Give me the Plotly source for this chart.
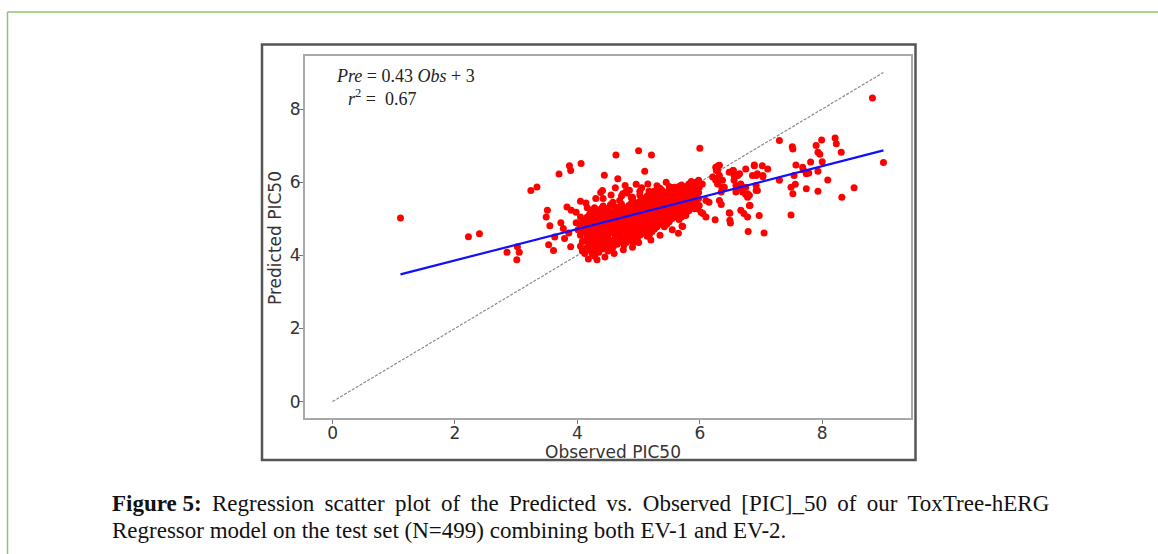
import plotly.graph_objects as go

W, H = 1158, 554
# plot-area placement (pixels)
PL, PR, PT, PB = 305, 911, 56, 418

# ---------------- data ----------------
# scattered points (observed, predicted)
scatter_pts = [
    (1.11, 5.02), (2.22, 4.51), (2.40, 4.59), (2.85, 4.08), (3.02, 4.23), (3.05, 4.08),
    (3.01, 3.88), (3.24, 5.77), (3.34, 5.87), (3.51, 5.23), (3.49, 5.05), (3.55, 4.81),
    (3.63, 4.50), (3.53, 4.29), (3.61, 4.13), (3.70, 6.22), (3.87, 6.45), (3.89, 6.32),
    (4.06, 6.51), (3.73, 4.89), (3.77, 4.73), (3.83, 5.32), (3.90, 5.23), (3.86, 4.61),
    (3.89, 4.23), (3.98, 4.89), (4.01, 4.70), (4.05, 5.48), (4.14, 5.43), (4.22, 5.23),
    (4.18, 3.90), (4.41, 5.77), (4.44, 6.19), (4.63, 6.74), (4.66, 6.09), (4.78, 5.91),
    (4.81, 5.70), (5.00, 6.86), (5.21, 6.74), (5.10, 6.30), (4.96, 5.94), (3.79, 4.46),
    (3.98, 5.18), (8.82, 8.30), (9.00, 6.54), (7.30, 7.14), (7.51, 6.97), (7.52, 6.91),
    (7.90, 7.00), (7.99, 7.15), (8.21, 7.21), (8.23, 7.05), (8.31, 6.82), (7.93, 6.82),
    (7.96, 6.76), (8.00, 6.56), (7.81, 6.55), (7.93, 6.30), (7.57, 6.47), (7.68, 6.41),
    (7.69, 6.34), (7.74, 6.23), (7.78, 6.25), (7.54, 6.18), (7.30, 6.05), (7.56, 5.94),
    (7.49, 5.86), (7.52, 5.68), (7.74, 5.82), (7.93, 5.75), (8.09, 6.06), (8.52, 5.85),
    (8.32, 5.59), (7.49, 5.10), (7.05, 4.61), (6.79, 4.65), (6.97, 5.09), (6.82, 5.36),
    (6.49, 5.15), (6.50, 4.88), (6.25, 4.97), (6.00, 6.93), (6.26, 6.41), (6.29, 6.32),
    (6.32, 6.46), (6.54, 6.32), (6.56, 6.18), (6.75, 6.36), (6.89, 6.45), (7.02, 6.45),
    (7.11, 6.36), (6.92, 6.18), (7.03, 6.18), (6.75, 5.86), (6.78, 5.68), (6.81, 5.64),
    (6.92, 5.77), (6.37, 6.05), (6.40, 5.86), (6.35, 5.73), (5.77, 5.09), (5.83, 5.32),
    (5.71, 4.80), (6.10, 5.05), (5.72, 4.79), (5.09, 4.61), (6.04, 5.95), (5.99, 5.86),
    (5.94, 5.77), (6.10, 5.50), (6.15, 5.45), (5.99, 5.36), (5.96, 5.27), (6.02, 5.18),
    (6.05, 5.14), (6.21, 6.14), (6.26, 6.05), (6.59, 5.73), (6.65, 5.86), (6.62, 5.86),
    (6.67, 5.95), (6.70, 5.73), (6.75, 5.66), (6.78, 5.59), (6.81, 5.36), (6.94, 5.77),
    (6.92, 5.91), (6.32, 5.50), (6.35, 5.39), (6.30, 6.45), (6.27, 6.32), (6.32, 6.18),
    (6.26, 6.09), (6.29, 5.95), (6.36, 5.86), (6.48, 6.27), (6.55, 6.32), (6.62, 6.18),
    (6.56, 6.05), (6.59, 5.91), (6.67, 5.23), (6.72, 5.14), (6.78, 5.05), (5.91, 5.27),
    (5.94, 5.36), (5.83, 5.41), (6.89, 6.47), (6.65, 6.23), (6.86, 6.18), (6.94, 6.23),
    (7.03, 6.15), (6.48, 5.16), (6.49, 4.96), (5.02, 5.75), (5.17, 5.75), (5.25, 5.75),
    (5.35, 5.83), (5.50, 5.88), (5.58, 5.86), (4.74, 5.68), (4.79, 5.73), (4.90, 5.59),
    (4.30, 5.55), (4.38, 5.72), (4.55, 5.65), (4.62, 5.85), (4.85, 5.78), (5.05, 5.85),
    (5.15, 5.95), (5.30, 5.90), (5.45, 6.00), (4.45, 3.95), (4.60, 4.05), (4.75, 4.15),
    (4.90, 4.22), (5.00, 4.35), (5.20, 4.42), (5.35, 4.55), (5.55, 4.70), (5.65, 4.60),
    (4.32, 3.88),
]

# dense core, by observed-value column
dense_cols = {
    4.05: [4.25, 4.55, 4.80, 5.05],
    4.08: [4.12, 4.38, 4.65, 4.90],
    4.12: [4.05, 4.40, 4.68, 4.95],
    4.16: [4.22, 4.55, 4.82, 5.05, 5.30],
    4.20: [4.15, 4.32, 4.50, 4.72, 4.90, 5.12],
    4.24: [4.05, 4.38, 4.60, 4.80, 5.00, 5.22],
    4.28: [3.98, 4.22, 4.45, 4.62, 4.85, 5.05, 5.30],
    4.31: [4.15, 4.38, 4.70, 4.92, 5.15],
    4.35: [4.08, 4.30, 4.55, 4.76, 4.98, 5.20],
    4.39: [4.25, 4.48, 4.68, 4.90, 5.12, 5.28],
    4.42: [4.18, 4.40, 4.60, 4.82, 5.02, 5.35, 5.55],
    4.46: [4.32, 4.55, 4.75, 4.98, 5.18],
    4.50: [4.12, 4.28, 4.50, 4.70, 4.92, 5.10, 5.28],
    4.54: [4.20, 4.40, 4.62, 4.82, 5.02, 5.20, 5.38],
    4.58: [4.22, 4.40, 4.62, 4.80, 5.00, 5.18, 5.45],
    4.62: [4.32, 4.52, 4.70, 4.92, 5.12, 5.32],
    4.65: [4.30, 4.52, 4.72, 4.90, 5.08, 5.25],
    4.69: [4.38, 4.58, 4.80, 5.00, 5.15, 5.32, 5.50],
    4.72: [4.45, 4.62, 4.83, 5.02, 5.20, 5.40, 5.62],
    4.76: [4.28, 4.50, 4.70, 4.90, 5.08, 5.25],
    4.80: [4.35, 4.55, 4.75, 4.95, 5.12, 5.30],
    4.84: [4.42, 4.62, 4.82, 5.00, 5.18, 5.36],
    4.88: [4.50, 4.68, 4.88, 5.05, 5.22, 5.42, 5.58],
    4.91: [4.35, 4.55, 4.75, 4.95, 5.12, 5.30, 5.50],
    4.95: [4.40, 4.60, 4.80, 4.98, 5.15, 5.35],
    4.98: [4.48, 4.68, 4.86, 5.05, 5.22, 5.42],
    5.02: [4.55, 4.72, 4.92, 5.10, 5.28, 5.48, 5.65],
    5.06: [4.60, 4.78, 4.98, 5.15, 5.35, 5.55],
    5.10: [4.65, 4.85, 5.02, 5.20, 5.38, 5.55],
    5.14: [4.52, 4.72, 4.92, 5.10, 5.28, 5.46, 5.62],
    5.18: [4.58, 4.78, 4.96, 5.14, 5.32, 5.50, 5.70],
    5.22: [4.65, 4.85, 5.02, 5.20, 5.38, 5.56],
    5.26: [4.72, 4.90, 5.08, 5.25, 5.42, 5.60],
    5.30: [4.78, 4.96, 5.14, 5.32, 5.50, 5.66],
    5.34: [4.85, 5.02, 5.20, 5.38, 5.55, 5.72],
    5.38: [4.92, 5.10, 5.28, 5.45, 5.62, 5.78],
    5.42: [4.78, 4.98, 5.15, 5.32, 5.50, 5.66],
    5.46: [4.85, 5.05, 5.22, 5.40, 5.58, 5.72],
    5.50: [4.92, 5.10, 5.28, 5.45, 5.62, 5.80],
    5.54: [5.00, 5.18, 5.35, 5.52, 5.70],
    5.58: [5.05, 5.22, 5.40, 5.58, 5.75],
    5.62: [5.10, 5.30, 5.48, 5.65, 5.82],
    5.66: [4.98, 5.16, 5.35, 5.52, 5.70, 5.88],
    5.70: [5.05, 5.25, 5.42, 5.60, 5.78, 5.92],
    5.74: [5.10, 5.30, 5.48, 5.65, 5.82],
    5.78: [5.18, 5.38, 5.55, 5.72, 5.88],
    5.82: [5.22, 5.42, 5.60, 5.78, 5.95],
    5.86: [5.35, 5.52, 5.70, 5.88, 6.02],
    5.90: [5.45, 5.62, 5.80, 5.98],
    5.94: [5.50, 5.68, 5.85, 6.00],
    5.98: [5.55, 5.72, 5.90, 6.05],
}

observed = [p[0] for p in scatter_pts]
predicted = [p[1] for p in scatter_pts]
for xo, ys in dense_cols.items():
    for yp in ys:
        observed.append(xo)
        predicted.append(yp)

FIT_SLOPE = 0.43
FIT_INTERCEPT = 3.0
identity_range = [0, 9]

x_ticks = [0, 2, 4, 6, 8]
y_ticks = [0, 2, 4, 6, 8]

eq_text = "<i>Pre</i> = 0.43 <i>Obs</i> + 3"
r2_text = "<i>r</i><sup>2</sup> =  0.67"
x_title = "Observed PIC50"
y_title = "Predicted PIC50"
TS = "&#8201;"  # thin space for justified first caption line
cap1_words = ["<b>Figure 5:</b>", "Regression", "scatter", "plot", "of", "the", "Predicted",
              "vs.", "Observed", "[PIC]_50", "of", "our", "ToxTree-hERG"]
caption1 = (TS + " ").join(cap1_words)
caption2 = "Regressor model on the test set (N=499) combining both EV-1 and EV-2."

# ---------------- figure ----------------
def px_x(px):
    return (px - PL) / (PR - PL)

def px_y(py):
    return (PB - py) / (PB - PT)

fit_x = [min(observed), max(observed)]
fit_y = [FIT_SLOPE * v + FIT_INTERCEPT for v in fit_x]

fig = go.Figure()
fig.add_trace(go.Scatter(x=identity_range, y=identity_range, mode="lines",
                         line=dict(color="#8a8a8a", width=1.2, dash="3px,1.5px"),
                         hoverinfo="skip", showlegend=False))
fig.add_trace(go.Scatter(x=observed, y=predicted, mode="markers",
                         marker=dict(color="#ff0000", size=7, line=dict(width=0)),
                         showlegend=False))
fig.add_trace(go.Scatter(x=fit_x, y=fit_y, mode="lines",
                         line=dict(color="#1010ff", width=2.2),
                         showlegend=False))

label_font = dict(family="DejaVu Sans", size=17, color="#333333")
axis_common = dict(showgrid=False, zeroline=False, showline=True, mirror=True,
                   linecolor="#a8a8a8", linewidth=2, ticks="outside", ticklen=4,
                   tickwidth=1, tickcolor="#777777", tickfont=label_font)

fig.update_xaxes(range=[-0.45, 9.45], tickvals=x_ticks, ticklabelstandoff=-5, **axis_common)
fig.update_yaxes(range=[-0.45, 9.45], tickvals=y_ticks, ticklabelstandoff=-5, **axis_common)

shapes = [
    # green page frame
    dict(type="line", xref="paper", yref="paper", x0=px_x(7.5), x1=px_x(W + 5),
         y0=px_y(12), y1=px_y(12), line=dict(color="#8cc56a", width=1.5)),
    dict(type="line", xref="paper", yref="paper", x0=px_x(7.5), x1=px_x(7.5),
         y0=px_y(12), y1=px_y(H + 5), line=dict(color="#8cc56a", width=1.5)),
    # dark image frame
    dict(type="rect", xref="paper", yref="paper", x0=px_x(262), x1=px_x(915.5),
         y0=px_y(460), y1=px_y(44.5), line=dict(color="#555555", width=2.5)),
]

annotations = [
    dict(text=x_title, xref="paper", yref="paper", x=px_x(613), y=px_y(452),
         xanchor="center", yanchor="middle", showarrow=False, font=label_font),
    dict(text=y_title, xref="paper", yref="paper", x=px_x(275), y=px_y(238),
         xanchor="center", yanchor="middle", showarrow=False, textangle=-90,
         font=label_font),
    dict(text=eq_text, xref="paper", yref="paper", x=px_x(334), y=px_y(76),
         xanchor="left", yanchor="middle", showarrow=False,
         font=dict(family="Liberation Serif", size=18, color="#222222")),
    dict(text=r2_text, xref="paper", yref="paper", x=px_x(346), y=px_y(97),
         xanchor="left", yanchor="middle", showarrow=False,
         font=dict(family="Liberation Serif", size=18, color="#222222")),
    dict(text=caption1, xref="paper", yref="paper", x=px_x(110), y=px_y(503),
         xanchor="left", yanchor="middle", showarrow=False,
         font=dict(family="Liberation Serif", size=23, color="#111111")),
    dict(text=caption2, xref="paper", yref="paper", x=px_x(110), y=px_y(530),
         xanchor="left", yanchor="middle", showarrow=False,
         font=dict(family="Liberation Serif", size=23, color="#111111")),
]

fig.update_layout(width=W, height=H, autosize=False,
                  margin=dict(l=PL, r=W - PR, t=PT, b=H - PB),
                  paper_bgcolor="white", plot_bgcolor="white",
                  shapes=shapes, annotations=annotations, showlegend=False)

fig.write_html("out.html", config={"displayModeBar": False},
               post_script="document.body.style.margin='0';document.body.style.padding='0';"
                           "document.body.style.overflow='hidden';")
